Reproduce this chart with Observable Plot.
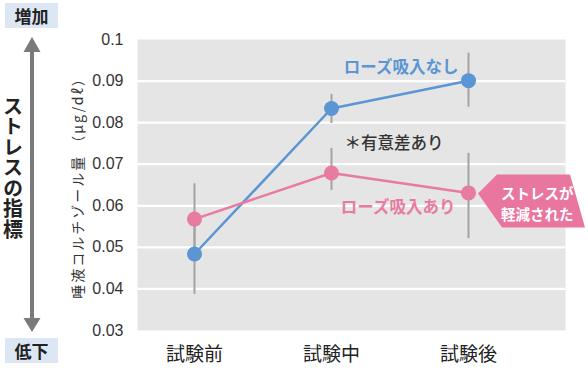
<!DOCTYPE html>
<html><head><meta charset="utf-8">
<script src="https://cdn.jsdelivr.net/npm/d3@7"></script>
<script src="https://cdn.jsdelivr.net/npm/@observablehq/plot@0.6"></script>
<style>
body{margin:0;background:#fff;}
#chart{position:relative;width:588px;height:368px;}
</style></head><body><div id="chart"></div>
<script>
const groups = ["試験前", "試験中", "試験後"];
const seriesNames = ["ローズ吸入なし", "ローズ吸入あり"];
const noRose = [0.0484, 0.0834, 0.0901];
const noRoseLow = [0.0387, 0.0798, 0.0837];
const noRoseHigh = [0.0581, 0.0868, 0.0967];
const withRose = [0.0568, 0.0679, 0.0631];
const withRoseLow = [0.0483, 0.0637, 0.0521];
const withRoseHigh = [0.0653, 0.0738, 0.0726];
const yTicks = [0.03, 0.04, 0.05, 0.06, 0.07, 0.08, 0.09, 0.1];
const yTickLabels = ["0.03", "0.04", "0.05", "0.06", "0.07", "0.08", "0.09", "0.1"];
const yLabel = "唾液コルチゾール量 （μg/dℓ）";
const sideLabel = "ストレスの指標";
const upLabel = "増加";
const downLabel = "低下";
const sigLabel = "＊有意差あり";
const calloutLines = ["ストレスが", "軽減された"];
const colors = ["#5b95d3", "#e87ba1"];

const rows = [];
groups.forEach((g, i) => {
  rows.push({group: g, series: seriesNames[0], value: noRose[i], low: noRoseLow[i], high: noRoseHigh[i]});
  rows.push({group: g, series: seriesNames[1], value: withRose[i], low: withRoseLow[i], high: withRoseHigh[i]});
});

const CJK = "'Noto Sans CJK JP', 'Noto Sans', sans-serif";

function decorations(index, scales, values, dimensions) {
  const svg = d3.create("svg:g");
  // side double arrow
  const arrow = svg.append("g").attr("fill", "#7a7a7a");
  arrow.append("rect").attr("x", 30).attr("y", 48).attr("width", 4).attr("height", 274);
  arrow.append("path").attr("d", "M32,37 L23.5,52 L40.5,52 Z");
  arrow.append("path").attr("d", "M32,332 L23.5,318 L40.5,318 Z");
  // boxes
  [[upLabel, 3], [downLabel, 338]].forEach(([t, y]) => {
    svg.append("rect").attr("x", 5).attr("y", y).attr("width", 53).attr("height", 25).attr("fill", "#dde7f4");
    svg.append("text").attr("x", 31.5).attr("y", y + 12.5).attr("text-anchor", "middle")
      .attr("dominant-baseline", "central").attr("font-family", CJK).attr("font-weight", "bold")
      .attr("font-size", 17).attr("fill", "#222").text(t);
  });
  // vertical side label
  svg.append("text").attr("x", 13).attr("y", 168).attr("text-anchor", "middle")
    .attr("style", "writing-mode: vertical-rl;")
    .attr("font-family", CJK).attr("font-weight", "bold").attr("font-size", 20)
    .attr("letter-spacing", 0.5).attr("fill", "#222").text(sideLabel);
  // y axis label
  const cy = (dimensions.marginTop + dimensions.height - dimensions.marginBottom) / 2;
  svg.append("text").attr("transform", `translate(77,${cy}) rotate(-90)`)
    .attr("text-anchor", "middle").attr("dominant-baseline", "central")
    .attr("font-family", CJK).attr("font-size", 14).attr("letter-spacing", 2)
    .attr("fill", "#333").text(yLabel);
  // callout anchored at the with-rose 試験後 point
  const px = scales.x(groups[2]), py = scales.y(withRose[2]);
  svg.append("path").attr("fill", "#e8769e")
    .attr("d", `M${px + 10},${py + 1} L${px + 29},${py - 18} L${px + 102},${py - 18} L${px + 117},${py + 35} L${px + 34},${py + 35} Z`);
  calloutLines.forEach((t, i) => {
    svg.append("text").attr("x", px + 33).attr("y", py + i * 21).attr("dominant-baseline", "central")
      .attr("text-anchor", "start")
      .attr("font-family", CJK).attr("font-weight", "bold").attr("font-size", 14.5)
      .attr("fill", "#fff").text(t);
  });
  return svg.node();
}

const plot = Plot.plot({
  width: 588, height: 368,
  marginLeft: 137, marginRight: 23, marginTop: 39, marginBottom: 38,
  style: {fontFamily: CJK, background: "transparent", overflow: "visible"},
  x: {type: "point", domain: groups, range: [193, 468], padding: 0, label: null},
  y: {domain: [0.03, 0.1], label: null},
  color: {domain: seriesNames, range: colors},
  marks: [
    Plot.frame({fill: "#e5e5e5", stroke: null}),
    Plot.ruleY(yTicks.slice(1, -1), {stroke: "#fff", strokeWidth: 2.2}),
    Plot.axisY({ticks: yTicks, tickFormat: d => yTickLabels[yTicks.indexOf(d)], tickSize: 0, tickPadding: 14,
      fontSize: 16, color: "#333", label: null}),
    Plot.axisX({tickSize: 0, tickPadding: 17, fontSize: 19, color: "#222", label: null}),
    Plot.ruleX(rows, {x: "group", y1: "low", y2: "high", stroke: "#a3a3a3", strokeWidth: 2}),
    Plot.line(rows, {x: "group", y: "value", z: "series", stroke: "series", strokeWidth: 2.5}),
    Plot.dot(rows, {x: "group", y: "value", fill: "series", r: 7.5}),
    Plot.text([seriesNames[0]], {x: () => groups[2], y: () => noRose[2], text: d => d, dx: -10, dy: -13,
      textAnchor: "end", fill: colors[0], fontWeight: "bold", fontSize: 16.5}),
    Plot.text([seriesNames[1]], {x: () => groups[2], y: () => withRose[2], text: d => d, dx: -13, dy: 15,
      textAnchor: "end", fill: colors[1], fontWeight: "bold", fontSize: 16.5}),
    Plot.text([sigLabel], {x: () => groups[1], y: () => (noRose[1] + withRose[1]) / 2, text: d => d, dx: 13, dy: 3,
      textAnchor: "start", fill: "#333", fontWeight: 500, fontSize: 16.5}),
    decorations
  ]
});
d3.select(plot).select('g[aria-label="y-axis tick label"]').attr("font-family", "'Liberation Sans Narrow', 'Liberation Sans', sans-serif");
document.getElementById("chart").appendChild(plot);
</script></body></html>
